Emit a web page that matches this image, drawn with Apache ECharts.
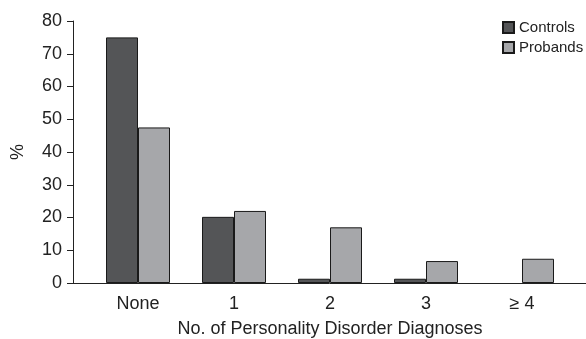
<!DOCTYPE html>
<html>
<head>
<meta charset="utf-8">
<script src="https://cdn.jsdelivr.net/npm/echarts@6/dist/echarts.min.js"></script>
<style>
  html, body { margin: 0; padding: 0; background: #fff; }
  #chart { width: 586px; height: 339px; }
</style>
</head>
<body>
<div id="chart"></div>
<script>
// 数据
const categories = ['None', '1', '2', '3', '\u2265 4'];
const controls = [75, 20.2, 1.3, 1.3, 0];
const probands = [47.5, 22, 17, 6.7, 7.4];
const yTicks = [0, 10, 20, 30, 40, 50, 60, 70, 80];

const font = 'Liberation Sans, Arial, Helvetica, sans-serif';
const chart = echarts.init(document.getElementById('chart'), null, { renderer: 'canvas' });

const barStyle = (color) => ({ color, borderColor: '#1a1a1a', borderWidth: 1 });
// 值为0的柱子不画边框
const toData = (arr) => arr.map(v => v === 0 ? { value: v, itemStyle: { borderWidth: 0 } } : v);

chart.setOption({
  animation: false,
  textStyle: { fontFamily: font },
  legend: {
    orient: 'vertical',
    left: 497,
    top: 15,
    icon: 'rect',
    itemWidth: 11,
    itemHeight: 11,
    itemGap: 5,
    textStyle: { fontSize: 15, color: '#222', padding: [0, 0, 0, 0] },
    data: ['Controls', 'Probands']
  },
  grid: [
    { left: 73, right: 0, top: 21, bottom: 56, outerBoundsMode: 'none' },  // 轴线
    { left: 90, right: 16, top: 21, bottom: 56, outerBoundsMode: 'none' }  // 柱子
  ],
  xAxis: [
    {
      gridIndex: 0, type: 'value', min: 0, max: 1,
      axisLine: { show: true, lineStyle: { color: '#222', width: 1 } },
      axisTick: { show: false }, axisLabel: { show: false }, splitLine: { show: false }
    },
    {
      gridIndex: 1, type: 'category', data: categories,
      axisLine: { show: false }, axisTick: { show: false },
      axisLabel: { fontSize: 18, color: '#222', margin: 12 },
      name: 'No. of Personality Disorder Diagnoses',
      nameLocation: 'middle', nameGap: 37,
      nameTextStyle: { fontSize: 18, color: '#222' }
    }
  ],
  yAxis: [
    {
      gridIndex: 0, type: 'value', min: yTicks[0], max: yTicks[yTicks.length - 1], interval: 10,
      axisLine: { show: true, lineStyle: { color: '#222', width: 1 } },
      axisTick: { show: true, length: 6, lineStyle: { color: '#222' } },
      axisLabel: { fontSize: 18, color: '#222', margin: 11 },
      splitLine: { show: false },
      name: '%', nameLocation: 'middle', nameGap: 46, nameRotate: 90,
      nameTextStyle: { fontSize: 18, color: '#222' }
    },
    {
      gridIndex: 1, type: 'value', min: yTicks[0], max: yTicks[yTicks.length - 1],
      show: false
    }
  ],
  series: [
    {
      name: 'Controls', type: 'bar', xAxisIndex: 1, yAxisIndex: 1,
      data: toData(controls), barWidth: 32, barGap: '0%',
      itemStyle: barStyle('#545557')
    },
    {
      name: 'Probands', type: 'bar', xAxisIndex: 1, yAxisIndex: 1,
      data: toData(probands), barWidth: 32, barGap: '0%',
      itemStyle: barStyle('#a6a7aa')
    }
  ]
});
</script>
</body>
</html>
